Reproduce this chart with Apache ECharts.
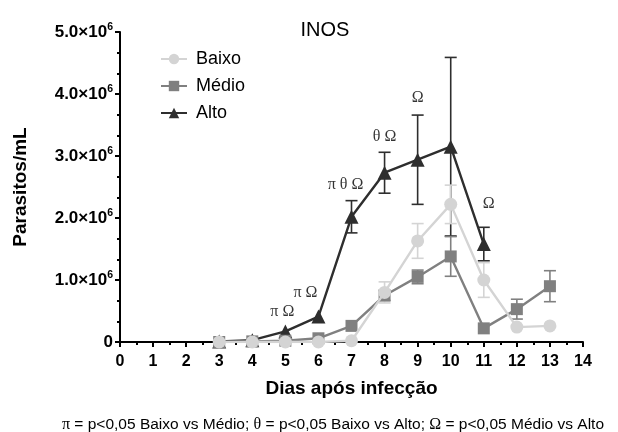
<!DOCTYPE html>
<html>
<head>
<meta charset="utf-8">
<script src="https://cdn.jsdelivr.net/npm/echarts@6/dist/echarts.min.js"></script>
<style>
  html, body { margin: 0; padding: 0; background: #fff; }
  #chart { width: 618px; height: 432px; }
</style>
</head>
<body>
<div id="chart"></div>
<script>
// Parasitemia (parasites/mL) per day after infection, three inoculum groups
const daysBaixo = [3, 4, 5, 6, 7, 8, 9, 10, 11, 12, 13];
const meanBaixo = [0.0, 0.0, 0.0, 0.0, 0.02, 0.80, 1.63, 2.22, 1.00, 0.24, 0.26];
const sdBaixo   = [0, 0, 0, 0, 0, 0.17, 0.28, 0.31, 0.28, 0, 0];

const daysMedio = [3, 4, 5, 6, 7, 8, 9, 10, 11, 12, 13];
const meanMedio = [0.0, 0.01, 0.02, 0.06, 0.26, 0.75, 1.05, 1.38, 0.22, 0.53, 0.90];
const sdMedio   = [0, 0, 0, 0, 0, 0.08, 0.11, 0.32, 0, 0.16, 0.25];

const daysAlto = [3, 4, 5, 6, 7, 8, 9, 10, 11];
const meanAlto = [0.01, 0.03, 0.17, 0.41, 2.02, 2.73, 2.94, 3.15, 1.58];
const sdAlto   = [0, 0, 0, 0, 0.26, 0.33, 0.72, 1.44, 0.27];

const SCALE = 1e6; // values above are in millions

// Significance markers on the Alto curve
const sigDays  = [5, 6, 7, 8, 9, 11];
const sigTexts = ['π Ω', 'π Ω', 'π θ Ω', 'θ Ω', 'Ω', 'Ω'];

const yTicks = [0, 1, 2, 3, 4, 5];
const xMax = 14;

const FONT = '"Liberation Sans", Arial, sans-serif';
const SERIF = '"Liberation Serif", "Times New Roman", serif';

const colors = { Baixo: '#d4d4d4', 'Médio': '#808080', Alto: '#2e2e2e' };

function pairs(days, means) {
  return days.map((d, i) => [d, means[i] * SCALE]);
}
function errPairs(days, means, sds) {
  return days.map((d, i) => [d, (means[i] - sds[i]) * SCALE, (means[i] + sds[i]) * SCALE])
             .filter((p, i) => sds[i] > 0);
}

function errorSeries(name, days, means, sds) {
  const color = colors[name];
  return {
    type: 'custom',
    name: name + ' sd',
    data: errPairs(days, means, sds),
    z: 1,
    silent: true,
    renderItem: function (params, api) {
      const lo = api.coord([api.value(0), api.value(1)]);
      const hi = api.coord([api.value(0), api.value(2)]);
      const cap = 6;
      const style = { stroke: color, lineWidth: 1.6 };
      return {
        type: 'group',
        children: [
          { type: 'line', shape: { x1: hi[0], y1: hi[1], x2: lo[0], y2: lo[1] }, style: style },
          { type: 'line', shape: { x1: hi[0] - cap, y1: hi[1], x2: hi[0] + cap, y2: hi[1] }, style: style },
          { type: 'line', shape: { x1: lo[0] - cap, y1: lo[1], x2: lo[0] + cap, y2: lo[1] }, style: style }
        ]
      };
    }
  };
}

function lineSeries(name, days, means, symbol, size, z) {
  const color = colors[name];
  return {
    type: 'line',
    name: name,
    data: pairs(days, means),
    symbol: symbol,
    symbolSize: size,
    showAllSymbol: true,
    z: z,
    itemStyle: { color: color, opacity: 1 },
    lineStyle: { color: color, width: 2.4 }
  };
}

// label placement for each significance marker (pixel nudges)
const sigLabelOffsets = [[-3, -8], [-13, -12], [-6, -4], [0, -3], [0, -5], [5, -12]];

const sigData = sigDays.map((d, i) => {
  const k = daysAlto.indexOf(d);
  return {
    value: [d, (meanAlto[k] + sdAlto[k]) * SCALE],
    label: { formatter: sigTexts[i], offset: sigLabelOffsets[i] }
  };
});

const chart = echarts.init(document.getElementById('chart'), null, { renderer: 'canvas' });

chart.setOption({
  animation: false,
  backgroundColor: '#ffffff',
  textStyle: { fontFamily: FONT },
  title: [
    {
      text: 'INOS',
      left: 320, top: 15, textAlign: 'center',
      textStyle: { fontFamily: FONT, fontSize: 20, fontWeight: 'normal', color: '#000' }
    },
    {
      text: '{g|π} = p<0,05 Baixo vs Médio; {g|θ} = p<0,05 Baixo vs Alto; {g|Ω} = p<0,05 Médio vs Alto',
      left: 328, top: 412, textAlign: 'center',
      textStyle: {
        fontFamily: FONT, fontSize: 15.5, fontWeight: 'normal', color: '#000',
        rich: { g: { fontFamily: SERIF, fontSize: 16, color: '#000' } }
      }
    }
  ],
  legend: {
    data: ['Baixo', 'Médio', 'Alto'],
    orient: 'vertical',
    left: 155, top: 45,
    itemWidth: 26, itemHeight: 13, itemGap: 9,
    textStyle: { fontFamily: FONT, fontSize: 18, color: '#000', padding: [0, 0, 0, 4] }
  },
  grid: { left: 120, right: 35, top: 32, bottom: 90, containLabel: false },
  xAxis: {
    type: 'value',
    min: 0, max: xMax, interval: 1,
    name: 'Dias após infecção',
    nameLocation: 'middle', nameGap: 37,
    nameTextStyle: { fontFamily: FONT, fontSize: 19, fontWeight: 'bold', color: '#000' },
    axisLine: { lineStyle: { color: '#000', width: 2 } },
    axisTick: { show: true, length: 5, inside: false, lineStyle: { color: '#000', width: 2 } },
    minorTick: { show: true, splitNumber: 2, length: 3, lineStyle: { color: '#000', width: 2 } },
    splitLine: { show: false },
    axisLabel: { fontFamily: FONT, fontSize: 16, fontWeight: 'bold', color: '#000', margin: 12 }
  },
  yAxis: {
    type: 'value',
    min: yTicks[0] * SCALE, max: yTicks[yTicks.length - 1] * SCALE, interval: SCALE,
    name: 'Parasitos/mL',
    nameLocation: 'middle', nameGap: 90,
    nameTextStyle: { fontFamily: FONT, fontSize: 19, fontWeight: 'bold', color: '#000' },
    axisLine: { show: true, lineStyle: { color: '#000', width: 2 } },
    axisTick: { show: true, length: 5, inside: false, lineStyle: { color: '#000', width: 2 } },
    minorTick: { show: true, splitNumber: 3, length: 3, lineStyle: { color: '#000', width: 2 } },
    splitLine: { show: false },
    axisLabel: {
      margin: 7,
      formatter: function (v) {
        if (v === 0) return '{m|0}';
        return '{m|' + (v / SCALE).toFixed(1) + '×10}{e|6}';
      },
      rich: {
        m: { fontFamily: FONT, fontSize: 17, fontWeight: 'bold', color: '#000' },
        e: { fontFamily: FONT, fontSize: 10.5, fontWeight: 'bold', color: '#000', verticalAlign: 'top', padding: [0, 0, 9, 0] }
      }
    }
  },
  series: [
    errorSeries('Alto', daysAlto, meanAlto, sdAlto),
    errorSeries('Médio', daysMedio, meanMedio, sdMedio),
    errorSeries('Baixo', daysBaixo, meanBaixo, sdBaixo),
    lineSeries('Alto', daysAlto, meanAlto, 'triangle', 14, 3),
    lineSeries('Médio', daysMedio, meanMedio, 'rect', 12, 4),
    lineSeries('Baixo', daysBaixo, meanBaixo, 'circle', 13, 5),
    {
      type: 'scatter',
      name: 'sig',
      data: sigData,
      symbolSize: 0,
      silent: true,
      z: 6,
      label: {
        show: true, position: 'top', distance: 4,
        fontFamily: SERIF, fontSize: 16, color: '#000'
      }
    }
  ]
});
</script>
</body>
</html>
